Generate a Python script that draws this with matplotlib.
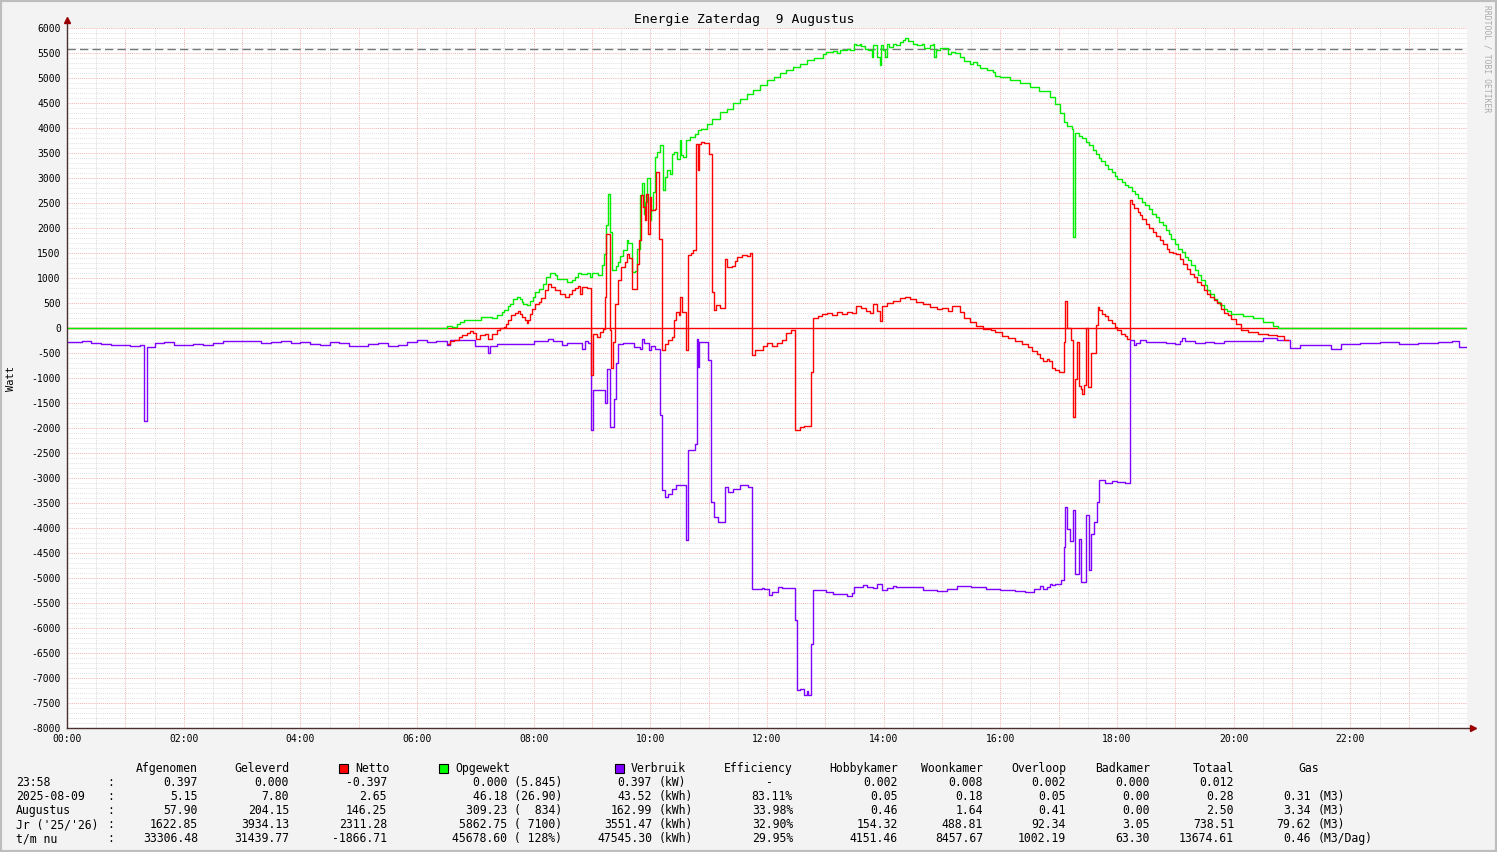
import matplotlib
matplotlib.use("Agg")
import matplotlib.pyplot as plt
from matplotlib.patches import Rectangle

W, H = 1497, 852
plt.rcParams['font.family'] = ['DejaVu Sans Mono']
plt.rcParams['lines.scale_dashes'] = False

# ---- series (step values, HH:MM -> Watt) ----
verbruik_t = ["00:00", "00:15", "00:25", "00:35", "00:45", "00:55", "01:05", "01:15", "01:19", "01:22",
              "01:30", "01:40", "01:50", "02:00", "02:10", "02:20", "02:30", "02:40", "02:50", "03:00",
              "03:10", "03:20", "03:30", "03:40", "03:50", "04:00", "04:10", "04:20", "04:30", "04:40",
              "04:50", "05:00", "05:10", "05:20", "05:30", "05:40", "05:50", "06:00", "06:10", "06:20",
              "06:31", "06:34", "07:00", "07:13", "07:15", "07:22", "08:00", "08:15", "08:20", "08:29",
              "08:34", "08:44", "08:50", "08:53", "08:56", "08:59", "09:01", "09:13", "09:15", "09:18",
              "09:23", "09:25", "09:27", "09:32", "09:43", "09:49", "09:51", "09:53", "09:59", "10:01",
              "10:05", "10:10", "10:12", "10:15", "10:18", "10:22", "10:26", "10:37", "10:39", "10:46",
              "10:48", "10:49", "10:50", "10:59", "11:02", "11:05", "11:10", "11:17", "11:20", "11:25",
              "11:32", "11:40", "11:45", "11:55", "11:57", "12:02", "12:05", "12:11", "12:15", "12:29",
              "12:31", "12:34", "12:38", "12:41", "12:42", "12:45", "12:47", "13:01", "13:08", "13:15",
              "13:22", "13:27", "13:30", "13:39", "13:43", "13:49", "13:53", "13:58", "14:03", "14:10",
              "14:13", "14:40", "14:55", "15:05", "15:15", "15:30", "15:45", "16:00", "16:15", "16:25",
              "16:35", "16:41", "16:44", "16:48", "16:51", "16:53", "16:56", "17:02", "17:05", "17:07",
              "17:09", "17:12", "17:15", "17:17", "17:21", "17:23", "17:28", "17:31", "17:33", "17:36",
              "17:39", "17:42", "17:48", "17:55", "18:00", "18:08", "18:13", "18:17", "18:20", "18:24",
              "18:30", "18:40", "18:50", "19:00", "19:05", "19:07", "19:10", "19:20", "19:30", "19:40",
              "19:50", "20:00", "20:10", "20:20", "20:30", "20:45", "20:58", "21:08", "21:40", "21:50",
              "22:10", "22:30", "22:50", "23:10", "23:30", "23:45", "23:52", "24:00"]
verbruik_w = [-280, -260, -300, -310, -340, -330, -350, -340, -1850, -380,
              -300, -280, -330, -340, -320, -330, -300, -260, -250, -260,
              -250, -290, -270, -250, -290, -280, -310, -330, -280, -300,
              -350, -360, -320, -300, -350, -330, -280, -240, -270, -250,
              -330, -240, -350, -490, -350, -310, -260, -210, -260, -340,
              -300, -290, -420, -260, -300, -2040, -1240, -1500, -820, -1970,
              -1420, -690, -320, -300, -370, -420, -220, -300, -440, -350,
              -410, -1740, -3240, -3370, -3310, -3210, -3140, -4240, -2440, -2310,
              -210, -780, -270, -640, -3470, -3770, -3870, -3170, -3270, -3210,
              -3140, -3170, -5220, -5190, -5220, -5340, -5270, -5170, -5190, -5840,
              -7240, -7210, -7340, -7250, -7340, -6320, -5240, -5270, -5310, -5320,
              -5360, -5290, -5170, -5140, -5170, -5200, -5120, -5230, -5200, -5160,
              -5180, -5230, -5260, -5220, -5150, -5170, -5210, -5230, -5260, -5280,
              -5220, -5160, -5210, -5180, -5120, -5140, -5110, -5040, -4370, -3570,
              -4010, -4250, -3640, -4920, -4210, -5070, -3730, -4840, -4110, -3870,
              -3470, -3030, -3090, -3060, -3070, -3090, -240, -330, -290, -240,
              -270, -280, -300, -320, -250, -190, -260, -290, -280, -300,
              -260, -250, -260, -250, -200, -230, -400, -330, -420, -310,
              -300, -280, -320, -300, -280, -250, -380, -380]

opgewekt_t = ["00:00", "06:31", "06:36", "06:41", "06:44", "06:48", "06:54", "07:06", "07:17", "07:22",
              "07:27", "07:30", "07:34", "07:36", "07:39", "07:43", "07:46", "07:48", "07:49", "07:53",
              "07:56", "07:59", "08:01", "08:05", "08:10", "08:13", "08:17", "08:22", "08:24", "08:34",
              "08:39", "08:43", "08:46", "08:49", "08:55", "08:58", "09:00", "09:06", "09:10", "09:12",
              "09:14", "09:16", "09:19", "09:21", "09:25", "09:27", "09:29", "09:32", "09:36", "09:37",
              "09:41", "09:44", "09:46", "09:49", "09:51", "09:53", "09:55", "09:57", "10:00", "10:01",
              "10:03", "10:05", "10:07", "10:10", "10:13", "10:15", "10:17", "10:20", "10:22", "10:24",
              "10:27", "10:30", "10:32", "10:34", "10:37", "10:41", "10:46", "10:49", "10:52", "10:58",
              "11:03", "11:12", "11:19", "11:25", "11:32", "11:39", "11:46", "11:53", "12:00", "12:07",
              "12:13", "12:20", "12:27", "12:34", "12:41", "12:48", "12:58", "13:01", "13:08", "13:12",
              "13:15", "13:22", "13:25", "13:29", "13:32", "13:36", "13:37", "13:41", "13:44", "13:48",
              "13:49", "13:53", "13:56", "13:57", "13:59", "14:01", "14:03", "14:06", "14:10", "14:13",
              "14:17", "14:20", "14:22", "14:25", "14:30", "14:34", "14:39", "14:42", "14:48", "14:51",
              "14:52", "14:54", "14:58", "15:06", "15:09", "15:13", "15:18", "15:23", "15:29", "15:32",
              "15:36", "15:39", "15:46", "15:52", "15:55", "16:00", "16:10", "16:20", "16:30", "16:40",
              "16:51", "16:56", "17:01", "17:05", "17:09", "17:14", "17:15", "17:17", "17:21", "17:24",
              "17:28", "17:31", "17:35", "17:38", "17:41", "17:44", "17:48", "17:51", "17:55", "17:58",
              "18:00", "18:05", "18:08", "18:11", "18:15", "18:19", "18:22", "18:26", "18:29", "18:33",
              "18:36", "18:40", "18:43", "18:47", "18:50", "18:53", "18:56", "19:00", "19:03", "19:07",
              "19:10", "19:13", "19:16", "19:20", "19:23", "19:26", "19:30", "19:33", "19:36", "19:40",
              "19:43", "19:46", "19:50", "19:53", "19:57", "20:03", "20:10", "20:20", "20:30", "20:40",
              "20:46", "24:00"]
opgewekt_w = [0, 50, 30, 90, 130, 160, 170, 230, 210, 260,
              330, 370, 440, 490, 590, 630, 590, 530, 480, 460,
              550, 630, 730, 790, 880, 1030, 1110, 1060, 990, 930,
              960, 1030, 1110, 1080, 1110, 1030, 1110, 1070, 1260, 1480,
              2060, 2680, 1930, 1170, 1240, 1330, 1440, 1560, 1760, 1700,
              1130, 1150, 1590, 2660, 2910, 2290, 2530, 3000, 2160, 2360,
              2730, 3430, 3530, 3660, 2760, 3030, 3160, 3090, 3490, 3530,
              3390, 3760, 3460, 3430, 3760, 3830, 3890, 3960, 3990, 4090,
              4190, 4330, 4390, 4510, 4590, 4690, 4760, 4860, 4960, 5030,
              5110, 5160, 5230, 5290, 5360, 5410, 5490, 5530, 5550, 5510,
              5570, 5590, 5560, 5690, 5670, 5690, 5640, 5590, 5560, 5430,
              5660, 5430, 5260, 5660, 5570, 5430, 5680, 5620, 5680, 5660,
              5730, 5770, 5810, 5750, 5680, 5660, 5690, 5610, 5660, 5680,
              5430, 5560, 5610, 5480, 5530, 5500, 5430, 5350, 5290, 5320,
              5270, 5210, 5170, 5130, 5040, 5030, 4960, 4900, 4820, 4740,
              4620, 4480, 4300, 4130, 4040, 3990, 1830, 3910, 3850, 3800,
              3730, 3660, 3560, 3490, 3410, 3340, 3260, 3190, 3130, 3050,
              2990, 2920, 2860, 2820, 2750, 2690, 2610, 2530, 2460, 2390,
              2290, 2220, 2130, 2060, 1960, 1890, 1790, 1690, 1590, 1520,
              1430, 1360, 1260, 1160, 1060, 960, 860, 760, 680, 590,
              530, 460, 390, 340, 290, 280, 240, 200, 120, 40,
              0, 0]

netto_t = ["06:32", "06:34", "06:38", "06:43", "06:46", "06:51", "06:55", "06:58", "07:01", "07:05",
           "07:10", "07:13", "07:17", "07:22", "07:25", "07:29", "07:32", "07:34", "07:37", "07:41",
           "07:44", "07:46", "07:48", "07:51", "07:53", "07:54", "07:56", "07:58", "08:01", "08:05",
           "08:08", "08:12", "08:15", "08:18", "08:22", "08:27", "08:32", "08:36", "08:39", "08:42",
           "08:46", "08:48", "08:50", "08:55", "08:59", "09:01", "09:05", "09:08", "09:11", "09:13",
           "09:14", "09:18", "09:20", "09:22", "09:24", "09:27", "09:30", "09:34", "09:36", "09:38",
           "09:41", "09:46", "09:48", "09:50", "09:52", "09:54", "09:56", "09:58", "10:00", "10:01",
           "10:05", "10:06", "10:09", "10:12", "10:15", "10:18", "10:22", "10:24", "10:26", "10:29",
           "10:31", "10:33", "10:37", "10:39", "10:42", "10:44", "10:47", "10:49", "10:50", "10:52",
           "10:55", "11:00", "11:03", "11:06", "11:08", "11:12", "11:17", "11:19", "11:24", "11:27",
           "11:29", "11:34", "11:39", "11:43", "11:45", "11:48", "11:56", "12:00", "12:05", "12:10",
           "12:15", "12:20", "12:25", "12:29", "12:34", "12:38", "12:45", "12:47", "12:52", "12:57",
           "13:02", "13:07", "13:12", "13:17", "13:22", "13:27", "13:32", "13:37", "13:42", "13:46",
           "13:49", "13:53", "13:56", "13:58", "14:03", "14:10", "14:17", "14:22", "14:27", "14:33",
           "14:40", "14:48", "14:55", "15:00", "15:06", "15:10", "15:18", "15:23", "15:29", "15:35",
           "15:42", "15:50", "15:55", "16:02", "16:08", "16:15", "16:22", "16:28", "16:33", "16:38",
           "16:41", "16:44", "16:48", "16:50", "16:53", "16:56", "17:00", "17:05", "17:07", "17:09",
           "17:13", "17:15", "17:17", "17:19", "17:21", "17:23", "17:24", "17:26", "17:28", "17:30",
           "17:33", "17:38", "17:40", "17:42", "17:45", "17:48", "17:51", "17:55", "17:58", "18:00",
           "18:04", "18:08", "18:10", "18:13", "18:15", "18:17", "18:22", "18:24", "18:26", "18:30",
           "18:33", "18:37", "18:40", "18:44", "18:47", "18:51", "18:54", "18:58", "19:01", "19:05",
           "19:08", "19:12", "19:15", "19:19", "19:22", "19:26", "19:29", "19:33", "19:36", "19:40",
           "19:43", "19:47", "19:50", "19:54", "19:57", "20:02", "20:08", "20:15", "20:25", "20:35",
           "20:45", "20:52", "20:56"]
netto_w = [-310, -260, -230, -170, -140, -90, -60, -90, -210, -140,
           -120, -210, -120, -40, 0, 30, 90, 160, 260, 310,
           340, 290, 230, 160, 110, 160, 290, 390, 480, 530,
           610, 760, 890, 830, 760, 690, 630, 690, 760, 800,
           840, 680, 830, 800, -940, -110, -170, -80, -20, 630,
           1880, -40, -790, -270, 490, 970, 1230, 1330, 1490, 1400,
           790, 1290, 1760, 2660, 2430, 2160, 2690, 1890, 2630, 2360,
           2390, 3130, 1790, -440, -310, -240, -170, 160, 330, 260,
           630, 330, -440, 1460, 1510, 1570, 3690, 3160, 3690, 3730,
           3700, 3490, 730, 360, 460, 410, 1390, 1230, 1250, 1350,
           1430, 1460, 1440, 1510, -540, -440, -360, -290, -350, -300,
           -240, -100, -40, -2030, -1980, -1960, -880, 200, 240, 280,
           300, 260, 320, 280, 330, 300, 450, 400, 350, 300,
           480, 350, 150, 450, 500, 550, 600, 620, 580, 530,
           480, 420, 380, 400, 350, 450, 330, 200, 120, 40,
           -20, -40, -80, -150, -200, -260, -320, -380, -450, -520,
           -590, -660, -620, -660, -790, -830, -870, -270, 550, 10,
           -240, -1770, -1010, -270, -1160, -1210, -1310, -1140, 0, -1170,
           -490, 60, 430, 360, 290, 240, 170, 110, 30, -40,
           -110, -160, -210, 2560, 2490, 2410, 2330, 2260, 2190, 2090,
           2010, 1930, 1840, 1770, 1690, 1590, 1530, 1510, 1480, 1390,
           1290, 1190, 1090, 1030, 930, 860, 760, 690, 630, 560,
           510, 390, 310, 260, 190, 80, -30, -80, -110, -140,
           -160, -230, -230]

piek = 5590  # dashed reference line

# ---- legend table ----
row_labels = ["23:58", "2025-08-09", "Augustus", "Jr ('25/'26)", "t/m nu"]
afgenomen = ["0.397", "5.15", "57.90", "1622.85", "33306.48"]
geleverd = ["0.000", "7.80", "204.15", "3934.13", "31439.77"]
netto = ["-0.397", "2.65", "146.25", "2311.28", "-1866.71"]
opgewekt = ["0.000 (5.845)", "46.18 (26.90)", "309.23 (  834)", "5862.75 ( 7100)", "45678.60 ( 128%)"]
verbruik = ["0.397", "43.52", "162.99", "3551.47", "47545.30"]
verbruik_unit = ["(kW)", "(kWh)", "(kWh)", "(kWh)", "(kWh)"]
efficiency = ["-   ", "83.11%", "33.98%", "32.90%", "29.95%"]
hobbykamer = ["0.002", "0.05", "0.46", "154.32", "4151.46"]
woonkamer = ["0.008", "0.18", "1.64", "488.81", "8457.67"]
overloop = ["0.002", "0.05", "0.41", "92.34", "1002.19"]
badkamer = ["0.000", "0.00", "0.00", "3.05", "63.30"]
totaal = ["0.012", "0.28", "2.50", "738.51", "13674.61"]
gas = ["", "0.31", "3.34", "79.62", "0.46"]
gas_unit = ["", "(M3)", "(M3)", "(M3)", "(M3/Dag)"]


def hours(ts):
    return [int(s[:2]) + int(s[3:]) / 60 for s in ts]


def fx(x):
    return x / W


def fy(y):
    return 1 - y / H


fig = plt.figure(figsize=(W / 100, H / 100), dpi=100, facecolor='#f3f3f3')
fig.add_artist(Rectangle((0, 0), 1, 1, transform=fig.transFigure, fill=False,
                         edgecolor='#bdbdbd', lw=3))
ax = fig.add_axes([fx(67), fy(728), 1400 / W, 700 / H])
ax.set_facecolor('white')
ax.set_xlim(0, 24)
ax.set_ylim(-8000, 6000)
for s in ax.spines.values():
    s.set_visible(False)

# grid, RRD style
dot = (0, (0.75, 0.75))
for m in range(1, 48):
    major = m % 2 == 0
    ax.axvline(m / 2, color='#f6b4b4' if major else '#dadada', lw=0.7, ls=dot, zorder=0)
for v in range(-7900, 6001, 100):
    major = v % 500 == 0
    ax.axhline(v, color='#f6b4b4' if major else '#e2e2e2', lw=0.7, ls=dot, zorder=0)

ax.hlines(piek, 0, 23.92, color='#777777', lw=1, linestyles=[(0, (6, 3))], zorder=1)
ax.axhline(0, color='#ff0000', lw=1, zorder=2)

ax.step(hours(opgewekt_t), opgewekt_w, where='post', color='#00ee00', lw=1, zorder=3)
ax.step(hours(verbruik_t), verbruik_w, where='post', color='#7f00ff', lw=1, zorder=4)
ax.step(hours(netto_t), netto_w, where='post', color='#ff0000', lw=1, zorder=5)

ax.set_yticks(range(-8000, 6001, 500))
ax.set_yticklabels([str(v) for v in range(-8000, 6001, 500)])
ax.set_xticks(range(0, 24, 2))
ax.set_xticklabels(["%02d:00" % h for h in range(0, 24, 2)])
ax.tick_params(axis='both', length=0, labelsize=7, colors='black')
ax.tick_params(axis='y', pad=4.5)
ax.tick_params(axis='x', pad=4)

# axes with arrows
ax.plot([0, 0], [0, 1.009], transform=ax.transAxes, color='#4a3030', lw=1, clip_on=False, zorder=6)
ax.plot([0, 1.003], [0, 0], transform=ax.transAxes, color='#4a3030', lw=1, clip_on=False, zorder=6)
ax.plot([0], [1.011], transform=ax.transAxes, marker='^', ms=4.5, color='#990000', clip_on=False, zorder=7)
ax.plot([1.004], [0], transform=ax.transAxes, marker='>', ms=4.5, color='#990000', clip_on=False, zorder=7)

fig.text(fx(744), fy(19), "Energie Zaterdag  9 Augustus", ha='center', va='center', fontsize=9.4)
fig.text(fx(11), fy(378), "Watt", ha='center', va='center', rotation=90, fontsize=7.5)
fig.text(fx(1487), fy(5), "RRDTOOL / TOBI OETIKER", ha='center', va='top', rotation=270,
         fontsize=5.8, color='#aaaaaa')

# legend table (baseline-aligned)
fs = 8.3
y0 = 768
bl = 4
for label, x, col in [("Netto", 355, '#ff0000'), ("Opgewekt", 455, '#00ff00'), ("Verbruik", 631, '#7f00ff')]:
    fig.add_artist(Rectangle((fx(x - 16), fy(y0 + 5)), 9 / W, 9 / H, transform=fig.transFigure,
                             facecolor=col, edgecolor='black', lw=0.8))
    fig.text(fx(x), fy(y0 + bl), label, ha='left', va='baseline', fontsize=fs)
for label, x in [("Afgenomen", 198), ("Geleverd", 289), ("Efficiency", 793), ("Hobbykamer", 898),
                 ("Woonkamer", 983), ("Overloop", 1066), ("Badkamer", 1150), ("Totaal", 1234), ("Gas", 1319)]:
    fig.text(fx(x), fy(y0 + bl), label, ha='right', va='baseline', fontsize=fs)

cols = [(afgenomen, 198), (geleverd, 289), (netto, 387), (opgewekt, 562), (verbruik, 652),
        (efficiency, 793), (hobbykamer, 898), (woonkamer, 983), (overloop, 1066),
        (badkamer, 1150), (totaal, 1234), (gas, 1311)]
for i, lab in enumerate(row_labels):
    y = y0 + 14 * (i + 1) + bl
    fig.text(fx(16), fy(y), lab, ha='left', va='baseline', fontsize=fs)
    fig.text(fx(107), fy(y), ":", ha='left', va='baseline', fontsize=fs)
    for vals, x in cols:
        fig.text(fx(x), fy(y), vals[i], ha='right', va='baseline', fontsize=fs)
    fig.text(fx(659), fy(y), verbruik_unit[i], ha='left', va='baseline', fontsize=fs)
    fig.text(fx(1318), fy(y), gas_unit[i], ha='left', va='baseline', fontsize=fs)

fig.savefig("out.png", dpi=100, facecolor=fig.get_facecolor())
